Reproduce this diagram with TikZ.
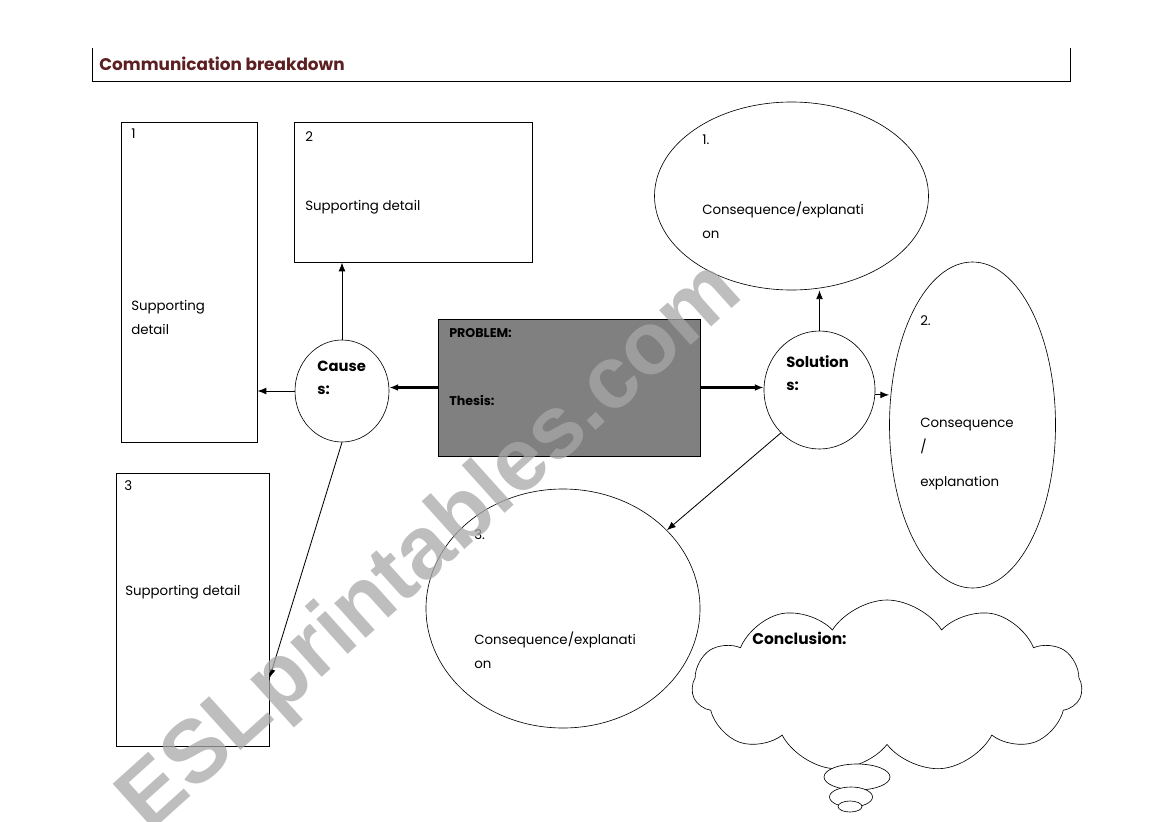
\documentclass[tikz,border=0pt]{standalone}
\usepackage{fontspec}
\setmainfont{Poppins}
\newfontfamily\wmfont{Liberation Sans}
\usetikzlibrary{arrows.meta,shapes.geometric,shapes.symbols,calc}
\definecolor{titlered}{RGB}{92,32,34}
\definecolor{probgray}{RGB}{128,128,128}

\begin{document}
\begin{tikzpicture}[
    x=0.025cm, y=-0.025cm,
    >={Latex[length=2.2mm,width=1.7mm]},
    detail/.style 2 args={rectangle, draw=black, line width=0.7pt, inner sep=0pt,
      minimum width=#1*0.025cm, minimum height=#2*0.025cm},
    oval/.style 2 args={ellipse, draw=black, line width=0.45pt, inner sep=0pt,
      minimum width=#1*0.025cm, minimum height=#2*0.025cm},
    txt/.style={anchor=north west, inner sep=0pt, align=left,
      font=\fontsize{9.5}{17}\selectfont},
    hd/.style={txt, font=\fontsize{10.5}{16.5}\selectfont\bfseries},
    link/.style={->, line width=0.6pt},
    boldlink/.style={->, line width=2pt},
  ]
  \useasboundingbox (0,0) rectangle (1169,821);

  %% title strip
  \coordinate (tl) at (92,48);
  \coordinate (tr) at (1070,48);
  \draw[line width=0.7pt] (tl) |- (tr |- 0,81) -- (tr);
  \node[anchor=north west, inner sep=0pt, text=titlered,
        font=\fontsize{12}{14}\selectfont\bfseries] (title) at (99,57)
    {Communication breakdown};

  %% supporting details
  \node[detail={136}{320}] (box1) at (189,282) {};
  \node[detail={238}{140}] (box2) at (413,192) {};
  \node[detail={153}{273}] (box3) at (192.5,609.5) {};
  \node[txt] (n1) at (131,129) {1};
  \node[txt] (d1) at (131,300) {Supporting\\detail};
  \node[txt] (n2) at (305,131) {2};
  \node[txt] (d2) at (305,200) {Supporting detail};
  \node[txt] (n3) at (124,480) {3};
  \node[txt] (d3) at (125,585) {Supporting detail};

  %% problem and the two hubs
  \node[rectangle, draw=black, fill=probgray, line width=0.7pt,
        minimum width=262*0.025cm, minimum height=137*0.025cm] (prob) at (569,387.5) {};
  \node[hd, font=\fontsize{9}{16}\selectfont\bfseries] (ptxt) at (449,328) {PROBLEM:};
  \node[hd, font=\fontsize{9}{16}\selectfont\bfseries] (thesis) at (449,395) {Thesis:};
  \node[oval={94}{102}] (cause) at (342,391) {};
  \node[hd] (ctxt) at (317,361) {Cause\\s:};
  \node[oval={111}{118}] (sol) at (819.5,390) {};
  \node[hd] (stxt) at (786,355) {Solution\\s:};

  %% consequences
  \node[oval={274}{188}] (e1) at (791.5,196) {};
  \node[txt] (c1) at (702,135) {1.};
  \node[txt] (x1) at (702,202) {Consequence/explanati\\on};
  \node[oval={166}{326}] (e2) at (972.5,425) {};
  \node[txt] (c2) at (920,315) {2.};
  \node[txt] (x2) at (920,418) {Consequence\\/};
  \node[txt] (y2) at (920,476) {explanation};
  \node[oval={274}{239}] (e3) at (563,608.5) {};
  \node[txt] (c3) at (474,529) {3.};
  \node[txt] (x3) at (474,632) {Consequence/explanati\\on};

  %% conclusion cloud
  \node[cloud, draw=black, line width=0.45pt, cloud puffs=11, cloud puff arc=115,
        aspect=2.3, inner sep=0pt, minimum width=390*0.025cm,
        minimum height=172*0.025cm] (concl) at (887,686) {};
  \node[oval={66}{26}, fill=white] (b1) at (857,777) {};
  \node[oval={43}{20}, fill=white] (b2) at (851,797) {};
  \node[oval={24}{11}, fill=white] (b3) at (850,806.5) {};
  \node[hd, font=\fontsize{11}{14}\selectfont\bfseries] (ctitle) at (752,632) {Conclusion:};

  %% connectors
  \draw[boldlink] (prob.west) -- (prob.west -| cause.east);
  \draw[boldlink] (prob.east) -- (prob.east -| sol.west);
  \draw[link] (cause.north) -- (cause.north |- box2.south);
  \draw[link] (cause.west) -- (cause.west -| box1.east);
  \draw[link] (cause.south) -- ($(box3.north east)!0.75!(box3.south east)$);
  \draw[link] (sol.north) -- (sol.north |- e1.south);
  \draw[link] (sol.-5) -- (sol.-5 -| e2.west);
  \draw[link] (sol.228) -- (e3.37);

  %% watermark
  \node[rotate=42, text=black!34, text opacity=0.75, inner sep=0pt,
        font=\wmfont\fontsize{63}{68}\selectfont\bfseries] (wm) at (432,548)
    {ESLprintables.com};
\end{tikzpicture}
\end{document}
